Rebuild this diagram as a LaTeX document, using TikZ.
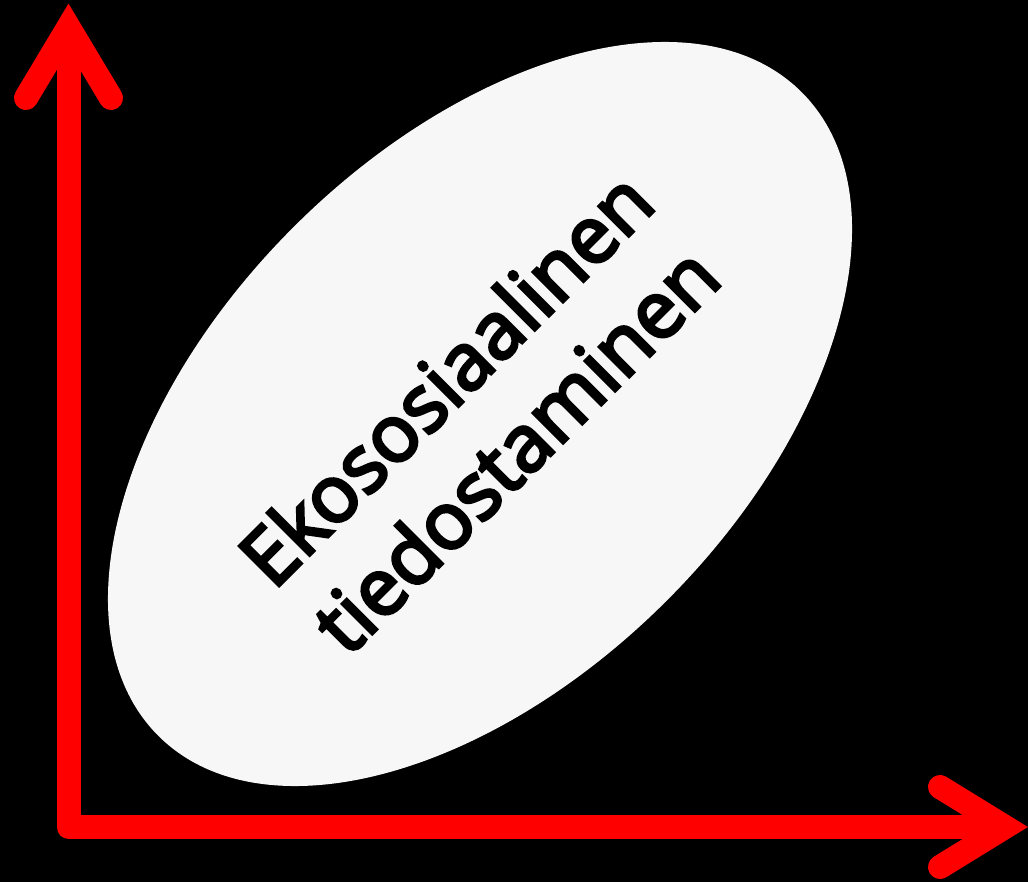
\documentclass[tikz,border=0pt]{standalone}
\usepackage{fontspec}
\setmainfont{Open Sans}
\newfontfamily\labelfont[FakeBold=4]{Open Sans}
\usetikzlibrary{shapes.geometric}
\definecolor{axisred}{HTML}{FF0000}
\definecolor{blobgray}{HTML}{F7F7F7}
\tikzset{
  axisline/.style={draw=axisred, line width=24pt, line join=round, line cap=round},
  headline/.style={draw=axisred, line width=24pt, line join=miter, line cap=round},
  label/.style={font=\labelfont\fontsize{79}{86}\selectfont, text=black, rotate=45, anchor=base, inner sep=0pt}
}
\begin{document}
\begin{tikzpicture}[x=1pt,y=-1pt]
\fill[black] (0,0) rectangle (1028,882);
\useasboundingbox (0,0) rectangle (1028,882);
\node[ellipse, fill=blobgray, minimum width=910pt, minimum height=528pt, inner sep=0pt, rotate=45] (blob) at (480,414) {};
\coordinate (ytip) at (68.5,27);
\coordinate (orig) at (68.5,827);
\coordinate (xtip) at (1005,827);
\coordinate (yl) at (26,98);
\coordinate (yr) at (111,98);
\coordinate (xu) at (940,787);
\coordinate (xd) at (940,867);
\draw[axisline, line cap=butt] (ytip) -- (orig) -- (xtip);
\draw[headline] (yl) -- (ytip) -- (yr);
\draw[headline] (xu) -- (xtip) -- (xd);
\node[label] (line1) at (466,399) {Ekososiaalinen};
\node[label] (line2) at (536,470) {tiedostaminen};
\end{tikzpicture}
\end{document}
